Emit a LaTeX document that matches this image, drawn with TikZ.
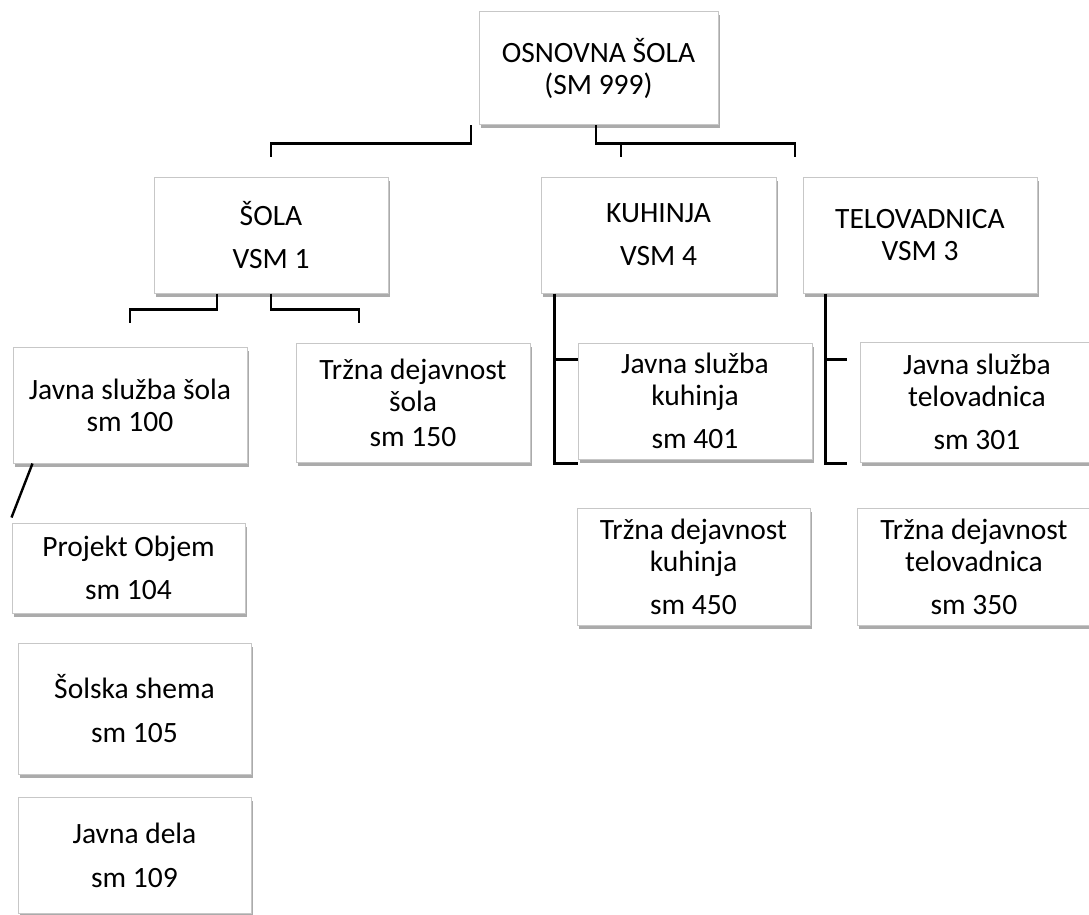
\documentclass[tikz,border=0pt]{standalone}
\usepackage{fontspec}
\setmainfont{Carlito}
\usetikzlibrary{shadows}
\begin{document}
\begin{tikzpicture}[x=1pt, y=1pt,
        unit/.style={draw=black!22, line width=1pt, fill=white, inner sep=0pt, align=center,
            font=\fontsize{29.5}{32}\selectfont,
            drop shadow={shadow xshift=2pt, shadow yshift=-3.5pt, opacity=0.6, fill=black!55}},
        link/.style={thick, line width=2.4pt}]
                \useasboundingbox (0,0) rectangle (1089,-915);
                
                \node[unit, minimum width=239pt, minimum height=113pt] (skola) at (598.5,-68.5) {OSNOVNA ŠOLA\\(SM 999)};
                
                \node[unit, minimum width=234pt, minimum height=116pt] (sola) at (271,-235) {ŠOLA\\[11pt]VSM 1};
                \node[unit, minimum width=235pt, minimum height=116pt] (kuhinja) at (658.5,-235) {KUHINJA\\[11pt]VSM 4};
                \node[unit, minimum width=234pt, minimum height=116pt] (telovadnica) at (920,-235) {TELOVADNICA\\VSM 3};
                
                \node[unit, minimum width=234pt, minimum height=116pt] (jsSola) at (130,-405) {Javna služba šola\\sm 100};
                \node[unit, minimum width=234pt, minimum height=119pt] (tdSola) at (413,-402.5) {Tržna dejavnost\\šola\\[3pt]sm 150};
                \node[unit, minimum width=234pt, minimum height=116pt] (jsKuhinja) at (695,-401) {Javna služba\\kuhinja\\[11pt]sm 401};
                \node[unit, minimum width=234pt, minimum height=120pt] (jsTelovadnica) at (977,-402) {Javna služba\\telovadnica\\[11pt]sm 301};
                \node[unit, minimum width=233pt, minimum height=117pt] (tdKuhinja) at (693.5,-566.5) {Tržna dejavnost\\kuhinja\\[11pt]sm 450};
                \node[unit, minimum width=234pt, minimum height=117pt] (tdTelovadnica) at (974,-566.5) {Tržna dejavnost\\telovadnica\\[11pt]sm 350};
                
                \node[unit, minimum width=233pt, minimum height=90pt] (objem) at (128.5,-568) {Projekt Objem\\[11pt]sm 104};
                \node[unit, minimum width=233pt, minimum height=131pt] (shema) at (134.5,-708.5) {Šolska shema\\[12pt]sm 105};
                \node[unit, minimum width=233pt, minimum height=116pt] (dela) at (134.5,-855) {Javna dela\\[12pt]sm 109};
                
                % brackets under the school
                \coordinate (fork) at ([xshift=-2.5pt, yshift=-18pt]skola.south);
                \draw[link] ([xshift=-127.5pt]skola.south) -- ++(0,-18) -| ([yshift=20pt]sola.north);
                \draw[link] ([xshift=-2.5pt]skola.south) -- (fork) -| ([xshift=-37.5pt, yshift=20pt]kuhinja.north);
                \draw[link] (fork) -| ([xshift=-125pt, yshift=20pt]telovadnica.north);
                
                \draw[link] ([xshift=-54pt]sola.south) -- ++(0,-16) -| ([yshift=24pt]jsSola.north);
                \draw[link] (sola.south) -- ++(0,-16) -| ([xshift=-54pt, yshift=20pt]tdSola.north);
                
                \draw[link] ([xshift=14pt]kuhinja.south west) |- ([yshift=-4pt]jsKuhinja.south west);
                \draw[link] ([yshift=-17pt]jsKuhinja.north west) -| ([xshift=14pt]kuhinja.south west);
                
                \draw[link] ([xshift=23pt]telovadnica.south west) |- ([xshift=-13pt, yshift=-1pt]jsTelovadnica.south west);
                \draw[link] ([xshift=-13pt, yshift=-18pt]jsTelovadnica.north west) -| ([xshift=23pt]telovadnica.south west);
                
                \draw[link] ([xshift=20pt]jsSola.south west) -- ([yshift=5pt]objem.north west);
            \end{tikzpicture}
\end{document}
